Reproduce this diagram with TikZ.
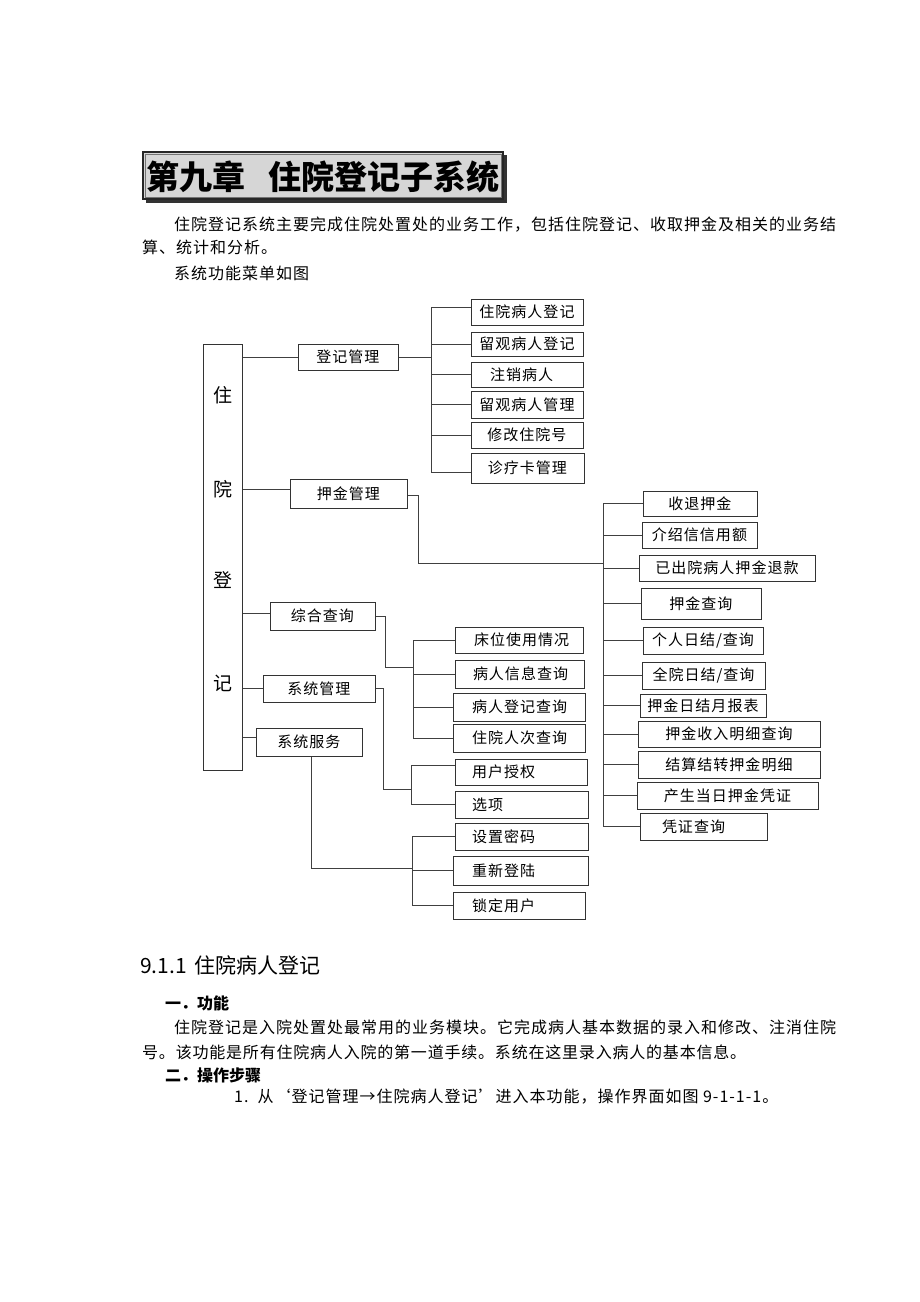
\documentclass[tikz,border=0pt]{standalone}
\usepackage{fontspec}
\setmainfont{Noto Sans CJK SC}
\newfontfamily\cjk{Noto Sans CJK SC}
\newfontfamily\diag[LetterSpace=6.7]{Noto Sans CJK SC}
\newfontfamily\bodyA[LetterSpace=6.25]{Noto Sans CJK SC}
\newfontfamily\bodyC[LetterSpace=5]{Noto Sans CJK SC}
\definecolor{titlegray}{RGB}{214,214,214}
\newcommand{\BoxC}[6]{\node[bx, minimum width={#4-#2}, minimum height={#5-#3}] (#1) at ({(#2+#4)/2},{(#3+#5)/2}) {#6};}
\newcommand{\BoxL}[7]{\node[bx, minimum width={#4-#2}, minimum height={#5-#3}] (#1) at ({(#2+#4)/2},{(#3+#5)/2}) {\makebox[\dimexpr#4pt-#2pt\relax][l]{\hspace{#6pt}#7}};}
\tikzset{
  bx/.style={draw=black!80, line width=1pt, inner sep=0pt, font=\diag\fontsize{15}{17}\selectfont},
  conn/.style={draw=black!75, line width=1pt},
  txt/.style={anchor=west, inner sep=0pt},
}
\begin{document}
\begin{tikzpicture}[x=1pt,y=-1pt]
\useasboundingbox[fill=white] (0,0) rectangle (920,1302);

% ---- title ----
\fill[black!80] (146,155) rectangle (507,203);
\node[draw=black!85, line width=1.2pt, fill=titlegray, minimum width=360, minimum height=47, inner sep=0pt] (title) at (323,175.5) {};
\draw[black!55, line width=0.6pt] ([shift={(2.5,2.5)}]title.north west) rectangle ([shift={(-2.5,-2.5)}]title.south east);
\node[font=\cjk\bfseries\fontsize{33}{36}\selectfont, inner sep=0pt] (titletext) at ([yshift=-1.5pt]title.center) {第九章\hspace{23pt}住院登记子系统};

% ---- intro text ----
\node[txt, font=\bodyA\fontsize{16}{18}\selectfont] (l1) at (174,225) {住院登记系统主要完成住院处置处的业务工作，包括住院登记、收取押金及相关的业务结};
\node[txt, font=\bodyA\fontsize{16}{18}\selectfont] (l2) at (142,247.5) {算、统计和分析。};
\node[txt, font=\bodyA\fontsize{16}{18}\selectfont] (l3) at (174,273) {系统功能菜单如图};

% ---- diagram ----
\node[bx, minimum width=39, minimum height=426] (main) at (222.5,557) {};
\node[font=\cjk\fontsize{19}{20}\selectfont, inner sep=0pt] (m1) at (222.5,395) {住};
\node[font=\cjk\fontsize{19}{20}\selectfont, inner sep=0pt] (m2) at (222.5,489) {院};
\node[font=\cjk\fontsize{19}{20}\selectfont, inner sep=0pt] (m3) at (222.5,580) {登};
\node[font=\cjk\fontsize{19}{20}\selectfont, inner sep=0pt] (m4) at (222.5,683) {记};

\BoxC{dj}{298}{344}{398}{370}{登记管理}
\BoxC{yj}{290}{479}{407}{508}{押金管理}
\BoxC{zh}{270}{602}{375}{630}{综合查询}
\BoxC{xt}{263}{675}{375}{702}{系统管理}
\BoxC{xf}{256}{728}{362}{756}{系统服务}

\BoxC{c1}{471}{299}{583}{325}{住院病人登记}
\BoxC{c2}{471}{332}{583}{356}{留观病人登记}
\BoxL{c3}{471}{362}{583}{387}{19}{注销病人}
\BoxC{c4}{471}{391}{583}{418}{留观病人管理}
\BoxC{c5}{471}{422}{583}{448}{修改住院号}
\BoxC{c6}{471}{453}{584}{483}{诊疗卡管理}

\BoxC{d1}{643}{491}{757}{516}{收退押金}
\BoxC{d2}{642}{522}{757}{548}{介绍信信用额}
\BoxC{d3}{639}{555}{815}{581}{已出院病人押金退款}
\BoxC{d4}{641}{588}{761}{619}{押金查询}
\BoxC{d5}{643}{627}{763}{654}{个人日结/查询}
\BoxC{d6}{642}{662}{765}{689}{全院日结/查询}
\BoxC{d7}{640}{694}{766}{717}{押金日结月报表}
\BoxC{d8}{638}{721}{820}{747}{押金收入明细查询}
\BoxC{d9}{638}{751}{820}{778}{结算结转押金明细}
\BoxC{d10}{637}{782}{818}{809}{产生当日押金凭证}
\BoxL{d11}{640}{813}{767}{840}{22}{凭证查询}

\BoxL{e1}{455}{627}{583}{653}{19}{床位使用情况}
\BoxL{e2}{455}{660}{584}{688}{18}{病人信息查询}
\BoxL{e3}{453}{693}{585}{721}{19}{病人登记查询}
\BoxL{e4}{453}{724}{585}{752}{19}{住院人次查询}

\BoxL{f1}{455}{759}{587}{785}{17}{用户授权}
\BoxL{f2}{455}{791}{588}{818}{17}{选项}

\BoxL{g1}{455}{823}{588}{850}{17}{设置密码}
\BoxL{g2}{453}{856}{588}{885}{19}{重新登陆}
\BoxL{g3}{453}{892}{585}{919}{19}{锁定用户}

% bars (x positions)
\coordinate (bar1) at (431,0);
\coordinate (bar2) at (603,0);
\coordinate (bar3) at (413,0);
\coordinate (bar4) at (411,0);
\coordinate (bar5) at (412,0);

% main -> first level
\draw[conn] (dj.west) -- (dj.west -| main.east);
\draw[conn] ([yshift=4.5pt]yj.west) -- ([yshift=4.5pt]yj.west -| main.east);
\draw[conn] ([yshift=3pt]zh.west) -- ([yshift=3pt]zh.west -| main.east);
\draw[conn] (xt.west) -- (xt.west -| main.east);
\draw[conn] ([yshift=5pt]xf.west) -- ([yshift=5pt]xf.west -| main.east);

% 登记管理
\coordinate (c1b) at ([yshift=5pt]c1.west);
\coordinate (c6b) at ([yshift=-4pt]c6.west);
\draw[conn] (dj.east) -- (dj.east -| bar1);
\draw[conn] (c1b -| bar1) -- (c6b -| bar1);
\draw[conn] (c1b) -- (c1b -| bar1);
\foreach \n in {c2,c3,c4,c5} \draw[conn] (\n.west) -- (\n.west -| bar1);
\draw[conn] (c6b) -- (c6b -| bar1);

% 押金管理
\coordinate (yjturn) at (418,563);
\draw[conn] ([yshift=-1.5pt]yj.east) -| (yjturn) -- (yjturn -| bar2);
\draw[conn] (d1.west -| bar2) -- (d11.west -| bar2);
\foreach \n in {d1,d2,d3,d4,d5,d6,d7,d8,d9,d10,d11} \draw[conn] (\n.west) -- (\n.west -| bar2);

% 综合查询
\coordinate (zhturn) at (385,667);
\draw[conn] (zh.east) -| (zhturn) -- (zhturn -| bar3);
\draw[conn] (e1.west -| bar3) -- (e4.west -| bar3);
\foreach \n in {e1,e2,e3,e4} \draw[conn] (\n.west) -- (\n.west -| bar3);

% 系统管理
\coordinate (xtturn) at (383,789);
\coordinate (f1b) at ([yshift=7pt]f1.west);
\draw[conn] (xt.east) -| (xtturn) -- (xtturn -| bar4);
\draw[conn] (f1b -| bar4) -- (f2.west -| bar4);
\draw[conn] (f1b) -- (f1b -| bar4);
\draw[conn] (f2.west) -- (f2.west -| bar4);

% 系统服务
\coordinate (xfturn) at (311,868);
\draw[conn] (xf.south -| xfturn) -- (xfturn) -- (xfturn -| bar5);
\draw[conn] (g1.west -| bar5) -- (g3.west -| bar5);
\foreach \n in {g1,g2,g3} \draw[conn] (\n.west) -- (\n.west -| bar5);

% ---- section text ----
\node[txt, font=\cjk\fontsize{21}{24}\selectfont] (h1) at (140,965) {9.1.1\hspace{8pt}住院病人登记};
\node[txt, font=\cjk\bfseries\fontsize{16}{18}\selectfont] (h2) at (165,1003) {一．功能};
\node[txt, font=\bodyA\fontsize{16}{18}\selectfont] (p1) at (174,1027) {住院登记是入院处置处最常用的业务模块。它完成病人基本数据的录入和修改、注消住院};
\node[txt, font=\bodyC\fontsize{16}{18}\selectfont] (p2) at (142,1052) {号。该功能是所有住院病人入院的第一道手续。系统在这里录入病人的基本信息。};
\node[txt, font=\cjk\bfseries\fontsize{16}{18}\selectfont] (h3) at (165,1075) {二．操作步骤};
\node[txt, font=\bodyA\fontsize{16}{18}\selectfont] (s1) at (234,1097) {1.\hspace{9pt}从‘登记管理→住院病人登记’进入本功能，操作界面如图 9-1-1-1。};
\end{tikzpicture}
\end{document}
